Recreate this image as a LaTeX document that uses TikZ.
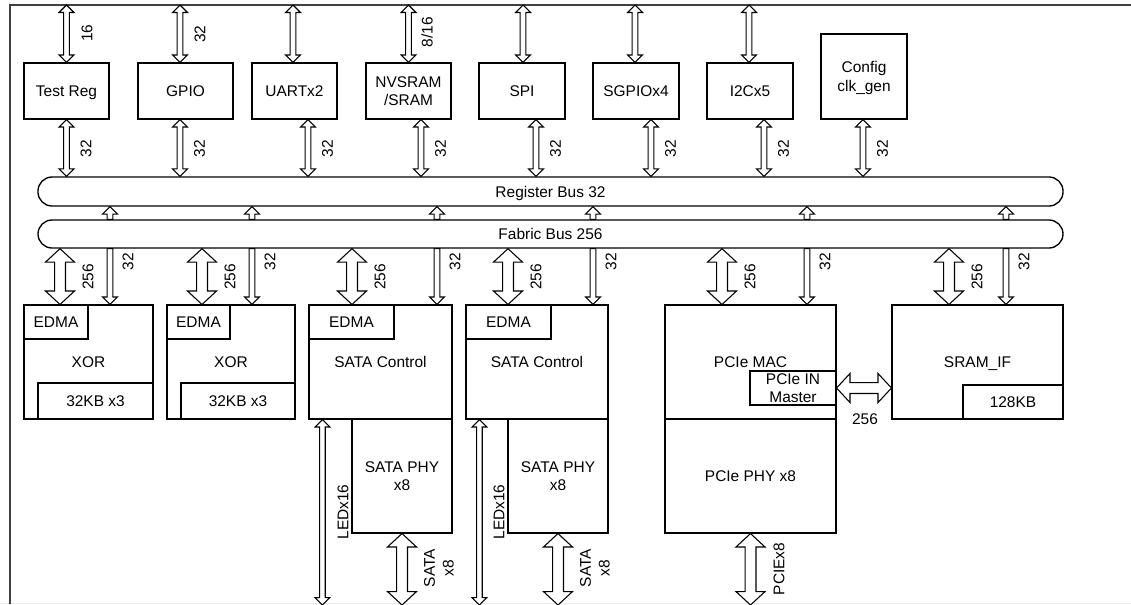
\documentclass[tikz,border=0pt]{standalone}
\usepackage{fontspec}
\setmainfont{Liberation Sans}
\usetikzlibrary{calc}

\tikzset{
  blk/.style={draw, fill=white, inner sep=0pt, align=center, text depth=0pt, line width=0.8pt},
  sz/.style 2 args={minimum width=#1*0.75pt, minimum height=#2*0.75pt},
  busbar/.style={draw, inner sep=0pt, text depth=0pt, rounded corners=10.5pt, line width=1pt},
  lbl/.style={rotate=90, inner sep=0pt, align=center},
  frm/.style={draw=black!75, line width=1.5pt},
  slim/.code={\def\shaftw{2.1pt}\def\headw{5.6pt}\def\headl{5.6pt}},
  wide/.code={\def\shaftw{4.1pt}\def\headw{10.9pt}\def\headl{10.1pt}},
  pipe/.style={draw, fill=white, line width=0.8pt},
  twoway/.style={pipe, to path={let \p1=(\tikztostart), \p2=(\tikztotarget) in
    -- (\x1+\headw,\y1-\headl) -- (\x1+\shaftw,\y1-\headl) -- (\x1+\shaftw,\y2+\headl)
    -- (\x1+\headw,\y2+\headl) -- (\x1,\y2) -- (\x1-\headw,\y2+\headl)
    -- (\x1-\shaftw,\y2+\headl) -- (\x1-\shaftw,\y1-\headl) -- (\x1-\headw,\y1-\headl) -- cycle}},
  downarr/.style={pipe, to path={let \p1=(\tikztostart), \p2=(\tikztotarget) in
    (\x1+\shaftw,\y1) -- (\x1+\shaftw,\y2+\headl) -- (\x1+\headw,\y2+\headl) -- (\x1,\y2)
    -- (\x1-\headw,\y2+\headl) -- (\x1-\shaftw,\y2+\headl) -- (\x1-\shaftw,\y1) -- cycle}},
  uparr/.style={pipe, to path={let \p1=(\tikztostart), \p2=(\tikztotarget) in
    (\x1+\shaftw,\y1) -- (\x1+\shaftw,\y2-\headl) -- (\x1+\headw,\y2-\headl) -- (\x1,\y2)
    -- (\x1-\headw,\y2-\headl) -- (\x1-\shaftw,\y2-\headl) -- (\x1-\shaftw,\y1) -- cycle}},
  sideway/.style={pipe, to path={let \p1=(\tikztostart), \p2=(\tikztotarget) in
    -- (\x1+\headl,\y1+\headw) -- (\x1+\headl,\y1+\shaftw) -- (\x2-\headl,\y1+\shaftw)
    -- (\x2-\headl,\y1+\headw) -- (\x2,\y1) -- (\x2-\headl,\y1-\headw)
    -- (\x2-\headl,\y1-\shaftw) -- (\x1+\headl,\y1-\shaftw) -- (\x1+\headl,\y1-\headw) -- cycle}},
}

\begin{document}
\begin{tikzpicture}[x=0.75pt, y=-0.75pt, font=\fontsize{11.6}{14}\selectfont]
\useasboundingbox (0,0) rectangle (1131,604);
\coordinate (ftop) at (10,5);
\coordinate (fbot) at (10,605);
\draw[black!8] (0,603) -- (1131,603);
\draw[frm] (10,604) -- (ftop) -- (1131,5);

% buses
\node[busbar, sz={1025}{29}] (regbus) at (550.5,191.5) {Register Bus 32};
\node[busbar, sz={1025}{28}] (fabbus) at (550.5,234) {Fabric Bus 256};

% register bus peripherals
\node[blk, sz={85}{56}] (treg) at (66.5,91) {Test Reg};
\node[blk, sz={95}{56}] (gpio) at (185.5,91) {GPIO};
\node[blk, sz={85}{56}] (uart) at (294.5,91) {UARTx2};
\node[blk, sz={85}{56}] (nvsram) at (408.5,91) {NVSRAM\\/SRAM};
\node[blk, sz={86}{56}] (spi) at (522,91) {SPI};
\node[blk, sz={86}{56}] (sgpio) at (636,91) {SGPIOx4};
\node[blk, sz={86}{56}] (i2c) at (750,91) {I2Cx5};
\node[blk, sz={86}{85}] (cfg) at (864,76.5) {Config\\clk\_gen};

\foreach \b/\dx in {treg/0, gpio/-5.5, uart/-1.5, nvsram/0, spi/1, sgpio/-1, i2c/-1}
  \draw[slim, twoway] ($(\b.north |- ftop)+(\dx,0)$) to (\b.north);
\node[lbl] (ltreg) at (87,33) {16};
\node[lbl] (lgpio) at (200,34) {32};
\node[lbl] (lnvs) at (427,32) {8/16};

\foreach \b/\dx in {treg/0, gpio/-5.5, uart/13.5, nvsram/12.5, spi/14, sgpio/15, i2c/14, cfg/-1} {
  \draw[slim, twoway] ($(\b.south)+(\dx,0)$) to (regbus.north);
  \node[lbl] (r\b) at ($(\b.south)+(\dx+19.5,29)$) {32};
}

% fabric bus blocks
\node[blk, sz={129}{114}] (xor1) at (88.5,362) {XOR};
\node[blk, sz={64}{34}] (edma1) at (56,322) {EDMA};
\node[blk, sz={115}{36}] (mem1) at (95.5,401) {32KB x3};
\node[blk, sz={128}{114}] (xor2) at (231,362) {XOR};
\node[blk, sz={63}{34}] (edma2) at (198.5,322) {EDMA};
\node[blk, sz={114}{36}] (mem2) at (238,401) {32KB x3};
\node[blk, sz={143}{114}] (sata1) at (380.5,362) {SATA Control};
\node[blk, sz={85}{34}] (edma3) at (351.5,322) {EDMA};
\node[blk, sz={100}{114}] (sphy1) at (402,476) {SATA PHY\\x8};
\node[blk, sz={142}{114}] (sata2) at (537,362) {SATA Control};
\node[blk, sz={85}{34}] (edma4) at (508.5,322) {EDMA};
\node[blk, sz={100}{114}] (sphy2) at (558,476) {SATA PHY\\x8};
\node[blk, sz={171}{114}] (pcie) at (750.5,362) {PCIe MAC};
\node[blk, sz={86}{34}] (pmst) at (793,388) {PCIe IN\\Master};
\node[blk, sz={171}{114}] (pphy) at (750.5,476) {PCIe PHY x8};
\node[blk, sz={171}{114}] (sramif) at (977.5,362) {SRAM\_IF};
\node[blk, sz={100}{34}] (sram) at (1013,402) {128KB};

\foreach \b/\xa/\xb in {xor1/60/110, xor2/202/252, sata1/352/437, sata2/508/593, pcie/722/807, sramif/949/1006} {
  \draw[wide, twoway] (\xa,0 |- fabbus.south) to (\b.north);
  \draw[slim, downarr] (\xb,0 |- fabbus.south) to (\b.north);
  \draw[slim, uparr] (\xb,0 |- fabbus.north) to (regbus.south);
  \node[lbl] (w\b) at (\xa+28,277) {256};
  \node[lbl, anchor=east] (n\b) at (\xb+18,253) {32};
}

% outside links
\draw[slim, twoway] ($(sata1.south west)+(14,0)$) to (fbot);
\draw[wide, twoway] (sphy1.south) to (fbot);
\draw[slim, twoway] ($(sata2.south west)+(14,0)$) to (fbot);
\draw[wide, twoway] (sphy2.south) to (fbot);
\draw[wide, twoway] (pphy.south) to (fbot);
\draw[wide, sideway] (pmst.east) to (sramif.west);
\node[lbl] (led1) at (343,512) {LEDx16};
\node[lbl] (led2) at (499,512) {LEDx16};
\node[lbl] (sx1) at (439,568) {SATA\\x8};
\node[lbl] (sx2) at (595,568) {SATA\\x8};
\node[lbl] (px8) at (779,569) {PCIEx8};
\node (lmst) at (865,419) {256};
\end{tikzpicture}
\end{document}
